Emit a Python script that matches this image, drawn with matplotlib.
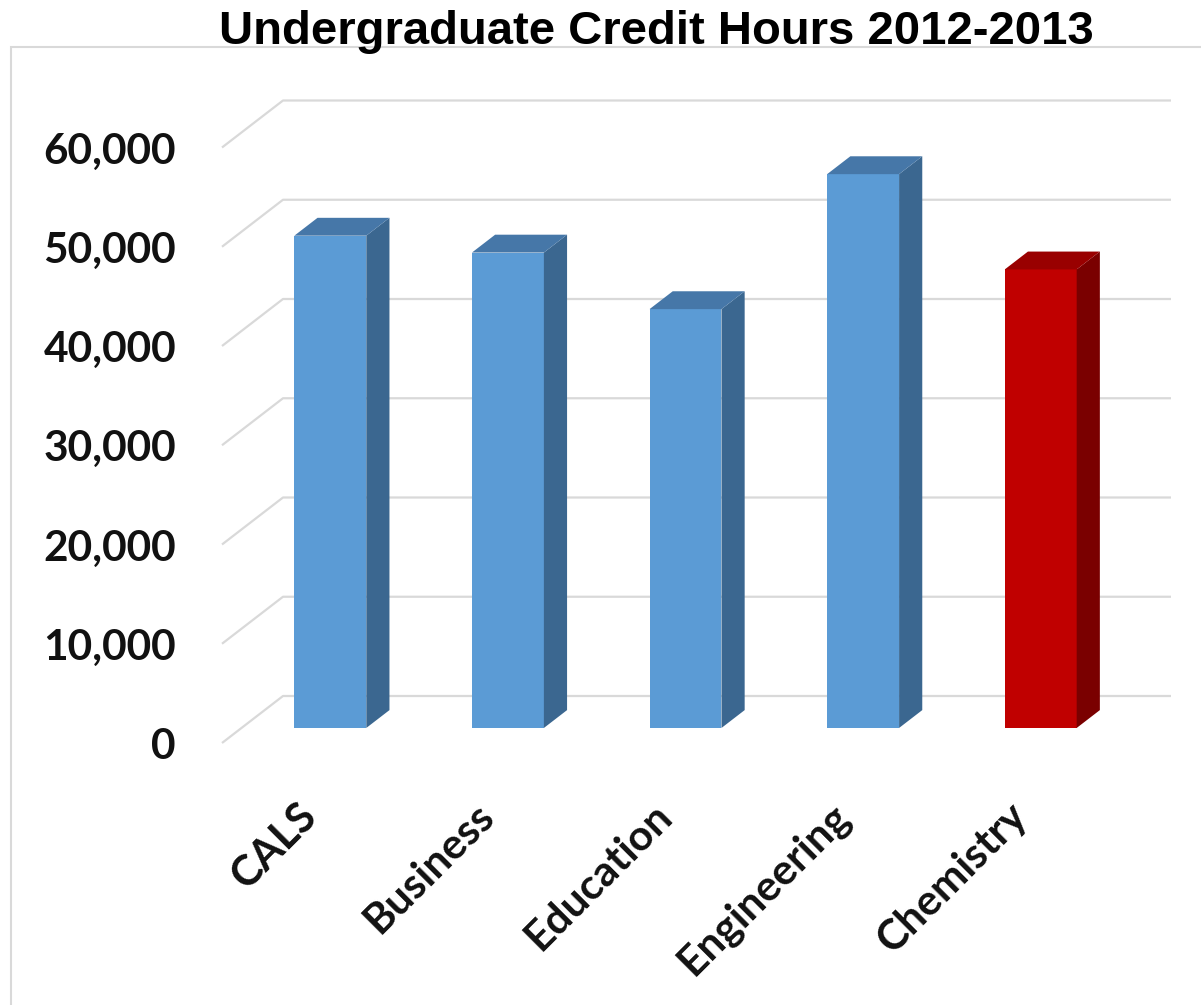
import matplotlib
matplotlib.use("Agg")
import matplotlib.pyplot as plt
from matplotlib.patches import Polygon, Rectangle

# data
categories = ["CALS", "Business", "Education", "Engineering", "Chemistry"]
credit_hours = [49600, 47900, 42200, 55800, 46200]
yticks = [0, 10000, 20000, 30000, 40000, 50000, 60000]
ytick_labels = ["0", "10,000", "20,000", "30,000", "40,000", "50,000", "60,000"]
title = "Undergraduate Credit Hours 2012-2013"

# colours (front, top, side)
blue = ("#5b9bd5", "#4677a8", "#3b6790")
red = ("#c00000", "#990000", "#7a0000")
bar_colors = [blue, blue, blue, blue, red]

# fake 3d layout (pixel calibration)
W, H = 1201, 1005
CAT_PX = 177.6       # pixels per category on the front floor edge
X0_PX = 222          # left end of front floor edge
V_PX = 0.009925      # pixels per credit hour
Y0_PX = 743          # value 0 on the front floor edge
DZ_X = 61 / CAT_PX   # full depth offset, x units
DZ_V = 47 / V_PX     # full depth offset, value units
Z_FRONT, Z_BACK = 0.32, 0.70
BAR_W = 0.405


def px2x(px):
    return (px - X0_PX) / CAT_PX - 0.5


def py2v(py):
    return (Y0_PX - py) / V_PX


fig = plt.figure(figsize=(W / 100, H / 100), dpi=100)
ax = fig.add_axes([0, 0, 1, 1])
ax.set_xlim(px2x(0), px2x(W))
ax.set_ylim(py2v(H), py2v(0))
ax.axis("off")

# chart frame
fig.add_artist(Rectangle((11 / W, -0.1), 1.2, 1 - 47 / H + 0.1, transform=fig.transFigure,
                         fill=False, edgecolor="#d9d9d9", lw=1.5, zorder=0))

n = len(categories)
grid_c = "#d9d9d9"
for v in yticks:
    ax.plot([-0.5, -0.5 + DZ_X, n - 0.5 + DZ_X], [v, v + DZ_V, v + DZ_V],
            color=grid_c, lw=1.6, zorder=1, solid_capstyle="butt")

lab_shift = 4 / V_PX  # labels sit a few px below the line ends
for v, lab in zip(yticks, ytick_labels):
    ax.text(px2x(176), v - lab_shift, lab, ha="right", va="center", fontsize=30.5,
            fontweight="bold", family="Lato", color="#111111")

dx = (Z_BACK - Z_FRONT) * DZ_X
dv = (Z_BACK - Z_FRONT) * DZ_V
base = Z_FRONT * DZ_V
for i, (val, cols) in enumerate(zip(credit_hours, bar_colors)):
    xc = i + Z_FRONT * DZ_X
    ax.bar(xc, val, bottom=base, width=BAR_W, color=cols[0], zorder=3)
    l, r = xc - BAR_W / 2, xc + BAR_W / 2
    top = base + val
    ax.add_patch(Polygon([(r, base), (r, top), (r + dx, top + dv), (r + dx, base + dv)],
                         closed=True, facecolor=cols[2], edgecolor="none", zorder=3))
    ax.add_patch(Polygon([(l, top), (r, top), (r + dx, top + dv), (l + dx, top + dv)],
                         closed=True, facecolor=cols[1], edgecolor="none", zorder=3))
    ax.text(xc - 20 / CAT_PX, py2v(810), categories[i], rotation=45,
            rotation_mode="anchor", ha="right", va="center", fontsize=30.5,
            fontweight="bold", family="Lato", color="#111111")

fig.text(656 / W, 1 - 44 / H, title, ha="center", va="baseline", fontsize=34,
         fontweight="bold", family="Liberation Sans", zorder=5)

fig.savefig("out.png", dpi=100)
